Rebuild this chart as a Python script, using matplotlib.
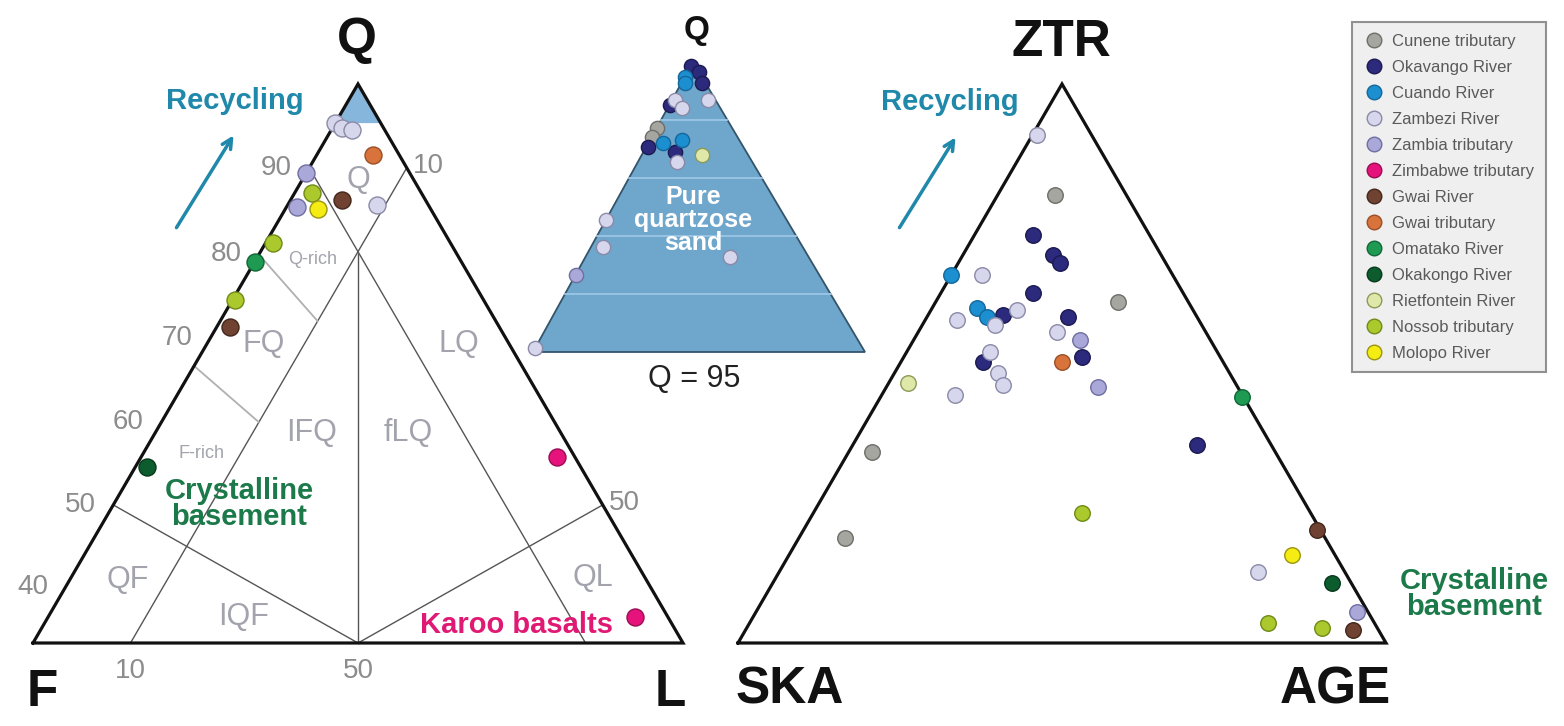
import numpy as np
import matplotlib.pyplot as plt
from matplotlib.lines import Line2D
from matplotlib.patches import Polygon

plt.rcParams['font.family'] = ['Liberation Sans', 'DejaVu Sans']

# ---- sources (legend order) ----
SOURCES = ["Cunene tributary", "Okavango River", "Cuando River", "Zambezi River",
           "Zambia tributary", "Zimbabwe tributary", "Gwai River", "Gwai tributary",
           "Omatako River", "Okakongo River", "Rietfontein River", "Nossob tributary",
           "Molopo River"]
FILL = ["#a6a6a0", "#2c2a7c", "#1b8fd0", "#d6d6ec", "#a9a8d9", "#e5137b", "#6f4232",
        "#d8733c", "#1e9a52", "#0d5c2e", "#dfe8a8", "#abc92d", "#f4ec12"]
EDGE = ["#6e6e6a", "#1c1a50", "#15679a", "#8a8aa8", "#6f6ea0", "#9a0d52", "#432719",
        "#9a4f26", "#116637", "#06391c", "#8c9a58", "#6f8a18", "#9c9410"]

# ---- QFL main diagram (Q, F, L %) ----
QFL_SRC = ["Zambezi River", "Zambezi River", "Zambezi River", "Zambezi River",
           "Gwai tributary", "Zambia tributary", "Zambia tributary",
           "Nossob tributary", "Nossob tributary", "Nossob tributary", "Molopo River",
           "Gwai River", "Gwai River", "Omatako River", "Okakongo River",
           "Zimbabwe tributary", "Zimbabwe tributary"]
QFL_Q = [95.0, 94.4, 94.2, 85.7, 91.4, 89.4, 85.5, 87.1, 81.3, 74.5, 85.2, 86.3, 71.3, 79.1, 54.6, 55.8, 18.6]
QFL_F = [5.0, 4.8, 3.6, 4.9, 2.5, 10.6, 13.8, 11.7, 18.2, 25.3, 12.0, 8.7, 27.8, 20.9, 44.6, 1.2, 2.9]
QFL_L = [0.0, 0.8, 2.2, 9.4, 6.1, 0.0, 0.7, 1.2, 0.5, 0.2, 2.8, 5.0, 0.9, 0.0, 0.8, 43.0, 78.5]

# ---- pure quartzose inset, Q > 95 (Q, F, L %) ----
INSET_SRC = ["Okavango River", "Okavango River", "Okavango River", "Cuando River",
             "Cuando River", "Zambezi River", "Zambezi River", "Zambezi River",
             "Okavango River", "Cunene tributary", "Cunene tributary", "Okavango River",
             "Cuando River", "Cuando River", "Okavango River", "Zambezi River",
             "Rietfontein River", "Zambezi River", "Zambezi River", "Zambezi River",
             "Zambia tributary", "Zambezi River"]
INSET_Q = [99.93, 99.82, 99.64, 99.74, 99.64, 99.34, 99.34, 99.21, 99.26, 98.86, 98.71,
           98.53, 98.60, 98.66, 98.45, 98.28, 98.40, 97.28, 96.81, 96.64, 96.33, 95.07]
INSET_F = [0.07, 0.00, 0.05, 0.26, 0.31, 0.12, 0.61, 0.58, 0.73, 1.14, 1.29,
           1.44, 1.18, 0.86, 1.07, 1.13, 0.69, 2.72, 3.01, 1.18, 3.67, 4.93]
INSET_L = [0.00, 0.18, 0.31, 0.00, 0.05, 0.54, 0.05, 0.21, 0.01, 0.00, 0.00,
           0.03, 0.22, 0.48, 0.48, 0.59, 0.91, 0.00, 0.18, 2.18, 0.00, 0.00]

# ---- heavy minerals (ZTR, SKA, AGE %) ----
HM_SRC = ["Zambezi River", "Cunene tributary", "Okavango River", "Okavango River",
          "Okavango River", "Cuando River", "Zambezi River", "Okavango River",
          "Cunene tributary", "Cuando River", "Cuando River", "Okavango River",
          "Zambezi River", "Zambezi River", "Zambezi River", "Okavango River",
          "Zambezi River", "Zambia tributary", "Okavango River", "Gwai tributary",
          "Zambezi River", "Okavango River", "Zambezi River", "Zambezi River",
          "Zambia tributary", "Rietfontein River", "Zambezi River", "Cunene tributary",
          "Cunene tributary", "Nossob tributary", "Omatako River", "Okavango River",
          "Gwai River", "Molopo River", "Zambezi River", "Okakongo River",
          "Zambia tributary", "Nossob tributary", "Nossob tributary", "Gwai River"]
HM_ZTR = [90.9, 80.1, 73.0, 69.4, 68.0, 65.8, 65.8, 62.6, 61.0, 59.9, 58.3, 58.7, 59.6, 57.8,
          56.9, 58.3, 55.6, 54.2, 51.2, 50.3, 52.1, 50.3, 48.3, 46.2, 45.8, 46.5, 44.4, 34.2,
          18.8, 23.3, 44.0, 35.4, 20.2, 15.7, 12.7, 10.7, 5.5, 3.6, 2.7, 2.3]
HM_SKA = [8.4, 11.1, 18.0, 16.7, 16.3, 34.2, 29.4, 23.2, 10.9, 33.2, 32.4, 29.8, 27.2, 37.3,
          31.9, 20.0, 23.0, 20.1, 21.3, 24.9, 35.0, 37.0, 35.7, 36.0, 21.5, 50.5, 44.3, 62.2,
          74.1, 35.2, 0.2, 11.5, 0.6, 6.6, 13.4, 3.0, 1.7, 16.4, 8.6, 4.0]
HM_AGE = [0.7, 8.8, 9.0, 13.9, 15.7, 0.0, 4.8, 14.2, 28.1, 6.9, 9.3, 11.5, 13.2, 4.9,
          11.2, 21.7, 21.4, 25.7, 27.5, 24.8, 12.9, 12.7, 16.0, 17.8, 32.7, 3.0, 11.3, 3.6,
          7.1, 41.5, 55.8, 53.1, 79.2, 77.7, 73.9, 86.3, 92.8, 80.0, 88.7, 93.7]

# ---- geometry ----
QFL_F_PT, QFL_L_PT, QFL_H = (33, 643), (683, 643), 559
# stretched QFL scale: Q% -> relative height, L/(F+L) -> relative position in row
Q_KNOTS = [0, 40, 50, 60, 70, 80, 90, 95, 100]
H_KNOTS = [0, 0.100, 0.247, 0.395, 0.546, 0.695, 0.85, 0.93, 1.0]
R_KNOTS = [0, 0.1, 0.5, 0.9, 1.0]
U_KNOTS = [0, 0.15, 0.5, 0.85, 1.0]

INSET_APEX, INSET_BL, INSET_BR = (693, 62), (533, 352), (865, 352)
HM_SKA_PT, HM_AGE_PT, HM_H = (738, 643), (1386, 643), 559


def qfl_xy(q, f, l):
    q, f, l = (np.asarray(v, dtype=float) for v in (q, f, l))
    tot = q + f + l
    q, f, l = 100 * q / tot, 100 * f / tot, 100 * l / tot
    h = np.interp(q, Q_KNOTS, H_KNOTS)
    r = np.where(f + l > 0, l / np.maximum(f + l, 1e-9), 0.5)
    u = np.interp(r, R_KNOTS, U_KNOTS)
    w = QFL_L_PT[0] - QFL_F_PT[0]
    return QFL_F_PT[0] + h * w / 2 + (1 - h) * w * u, QFL_F_PT[1] - h * QFL_H


def inset_xy(q, f, l):
    q, f, l = (np.asarray(v, dtype=float) for v in (q, f, l))
    tot = q + f + l
    a = (100 * q / tot - 95) / 5
    b = (100 * f / tot) / 5
    c = (100 * l / tot) / 5
    x = a * INSET_APEX[0] + b * INSET_BL[0] + c * INSET_BR[0]
    y = a * INSET_APEX[1] + b * INSET_BL[1] + c * INSET_BR[1]
    return x, y


def hm_xy(z, s, a):
    z, s, a = (np.asarray(v, dtype=float) for v in (z, s, a))
    tot = z + s + a
    w = HM_AGE_PT[0] - HM_SKA_PT[0]
    return HM_SKA_PT[0] + w * (a + z / 2) / tot, HM_SKA_PT[1] - HM_H * z / tot


def scatter_groups(ax, xy_func, src, a, b, c, size):
    x, y = xy_func(a, b, c)
    for name, fc, ec in zip(SOURCES, FILL, EDGE):
        m = np.array([s == name for s in src])
        if m.any():
            ax.scatter(x[m], y[m], s=size, c=fc, edgecolors=ec, linewidths=1.0, zorder=5)


fig = plt.figure(figsize=(15.64, 7.26), dpi=100)
ax = fig.add_axes([0, 0, 1, 1])
ax.set_xlim(0, 1564)
ax.set_ylim(726, 0)
ax.axis('off')

# ---- QFL triangle ----
apex = qfl_xy(100, 0, 0)
top = [apex, qfl_xy(95, 5, 0), qfl_xy(95, 0, 5)]
ax.add_patch(Polygon(np.array(top, dtype=float), closed=True, fc='#86b6dc', ec='none', zorder=1))

class_lines = [((0, 90, 10), (90, 0, 10)), ((0, 10, 90), (90, 10, 0)),
               ((0, 50, 50), (80, 10, 10)), ((0, 50, 50), (50, 50, 0)),
               ((0, 50, 50), (50, 0, 50))]
for p0, p1 in class_lines:
    x0, y0 = qfl_xy(*p0)
    x1, y1 = qfl_xy(*p1)
    ax.plot([x0, x1], [y0, y1], color='#555555', lw=1.0, zorder=2)

# Q-rich / F-rich subdivisions end on the L = 10 line
l10_a = np.array(qfl_xy(0, 90, 10), dtype=float)
l10_b = np.array(qfl_xy(90, 0, 10), dtype=float)
for q_edge, q_end in [(80, 72), (200 / 3, 60)]:
    x0, y0 = qfl_xy(q_edge, 100 - q_edge, 0)
    y_end = QFL_F_PT[1] - np.interp(q_end, Q_KNOTS, H_KNOTS) * QFL_H
    t = (l10_a[1] - y_end) / (l10_a[1] - l10_b[1])
    x_end = l10_a[0] + t * (l10_b[0] - l10_a[0])
    ax.plot([x0, x_end], [y0, y_end], color='#b0b0b0', lw=1.3, zorder=2)

corners = np.array([qfl_xy(0, 100, 0), qfl_xy(0, 0, 100), apex, qfl_xy(0, 100, 0)], dtype=float)
ax.plot(corners[:, 0], corners[:, 1], color='#111111', lw=2.3, zorder=3, solid_joinstyle='miter')

tick_c = '#8c8c8c'
for q in [90, 80, 70, 60, 50, 40]:
    x, y = qfl_xy(q, 100 - q, 0)
    ax.text(x - 33, y, str(q), fontsize=20, color=tick_c, ha='center', va='center')
for l in [10, 50]:
    x, y = qfl_xy(100 - l, 0, l)
    ax.text(x + 6, y - 2, str(l), fontsize=20, color=tick_c, ha='left', va='center')
    x, y = qfl_xy(0, 100 - l, l)
    ax.text(x, y + 28, str(l), fontsize=20, color=tick_c, ha='center', va='center')

field_c = '#a3a3ad'
for txt, x, y, fs in [("Q", 358, 180, 22), ("FQ", 264, 344, 22), ("LQ", 459, 344, 22),
                      ("IFQ", 312, 433, 22), ("fLQ", 408, 433, 22), ("QF", 128, 580, 22),
                      ("IQF", 244, 617, 22), ("QL", 593, 578, 22),
                      ("Q-rich", 313, 259, 13), ("F-rich", 202, 454, 13)]:
    ax.text(x, y, txt, fontsize=fs, color=field_c, ha='center', va='center')

scatter_groups(ax, qfl_xy, QFL_SRC, QFL_Q, QFL_F, QFL_L, 150)

for txt, x, y in [("Q", 357, 40), ("F", 42, 692), ("L", 670, 692)]:
    ax.text(x, y, txt, fontsize=37, fontweight='bold', color='#111111', ha='center', va='center')

# ---- inset: pure quartzose sand ----
ax.add_patch(Polygon(np.array([INSET_APEX, INSET_BL, INSET_BR], dtype=float), closed=True,
                     fc='#6ea6cc', ec='#34546a', lw=1.3, zorder=1))
for q in [96, 97, 98, 99]:
    x0, y0 = inset_xy(q, 100 - q, 0)
    x1, y1 = inset_xy(q, 0, 100 - q)
    ax.plot([x0, x1], [y0, y1], color='#9cc6e4', lw=1.3, zorder=2)
ax.text(693, 220, "Pure\nquartzose\nsand", fontsize=18, fontweight='bold', color='white',
        ha='center', va='center', linespacing=0.95, zorder=3)
scatter_groups(ax, inset_xy, INSET_SRC, INSET_Q, INSET_F, INSET_L, 105)
ax.text(697, 30, "Q", fontsize=24, fontweight='bold', color='#111111', ha='center', va='center')
ax.text(694, 379, "Q = 95", fontsize=22, color='#222222', ha='center', va='center')

# ---- ZTR-SKA-AGE triangle ----
hm_apex = hm_xy(100, 0, 0)
hm_c = np.array([HM_SKA_PT, HM_AGE_PT, hm_apex, HM_SKA_PT], dtype=float)
ax.plot(hm_c[:, 0], hm_c[:, 1], color='#111111', lw=2.3, zorder=3, solid_joinstyle='miter')
scatter_groups(ax, hm_xy, HM_SRC, HM_ZTR, HM_SKA, HM_AGE, 125)
for txt, x, y in [("ZTR", 1061, 43), ("SKA", 790, 690), ("AGE", 1335, 690)]:
    ax.text(x, y, txt, fontsize=37, fontweight='bold', color='#111111', ha='center', va='center')

# ---- annotations ----
teal = '#2088aa'
for (tx, ty), (x0, y0), (x1, y1) in [((235, 101), (175, 230), (235, 133)),
                                     ((950, 102), (898, 230), (957, 135))]:
    ax.text(tx, ty, "Recycling", fontsize=21, fontweight='bold', color=teal,
            ha='center', va='center')
    ax.annotate('', xy=(x1, y1), xytext=(x0, y0),
                arrowprops=dict(arrowstyle='->,head_length=0.7,head_width=0.35',
                                color=teal, lw=2.5))

green = '#1c7a4a'
ax.text(239, 504, "Crystalline\nbasement", fontsize=21, fontweight='bold', color=green,
        ha='center', va='center', linespacing=0.9)
ax.text(1474, 594, "Crystalline\nbasement", fontsize=21, fontweight='bold', color=green,
        ha='center', va='center', linespacing=0.9)
ax.text(516, 625, "Karoo basalts", fontsize=21, fontweight='bold', color='#e01a74',
        ha='center', va='center')

# ---- legend ----
handles = [Line2D([], [], ls='none', marker='o', markersize=10.5, markerfacecolor=fc,
                  markeredgecolor=ec, markeredgewidth=1.0) for fc, ec in zip(FILL, EDGE)]
leg = ax.legend(handles, SOURCES, loc='upper left', bbox_to_anchor=(1352, 22),
                bbox_transform=ax.transData, borderaxespad=0, frameon=True, fancybox=False,
                fontsize=12, labelspacing=0.66, handletextpad=0.5, handlelength=1.2,
                borderpad=0.7, labelcolor='#5a5a5a')
leg.get_frame().set_facecolor('#ececec')
leg.get_frame().set_edgecolor('#777777')
leg.get_frame().set_linewidth(1.5)

fig.savefig('out.png', dpi=100, facecolor='white')
